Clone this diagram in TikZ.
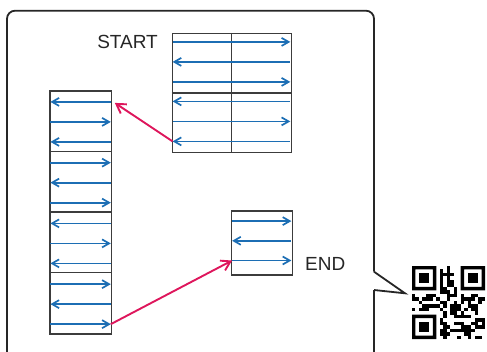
\documentclass[tikz,border=0pt]{standalone}
\usepackage{fontspec}
\setmainfont{Liberation Sans}
\usepackage{tikz}
\usetikzlibrary{arrows.meta,calc,positioning}

\definecolor{flowblue}{RGB}{28,110,180}
\definecolor{linkred}{RGB}{222,22,92}
\definecolor{boxgray}{RGB}{60,60,60}

\begin{document}
\begin{tikzpicture}[
    x=1pt,
    y=-1pt,
    >={Straight Barb[length=7pt,width=8pt]},
    panel/.style={draw=boxgray, line width=1.2pt, inner sep=0pt},
    sep/.style={draw=boxgray, line width=1.2pt},
    flow/.style={flowblue, line width=1.7pt},
    link/.style={linkred, line width=1.9pt, -{Straight Barb[length=9pt,width=11pt]}},
    frame/.style={draw=black!85, line width=1.8pt},
    lbl/.style={font=\fontsize{19}{21}\selectfont, inner sep=0pt, text=black!85},
    qr/.style={fill=black}
]
\useasboundingbox (0,0) rectangle (487,351);
\clip (0,0) rectangle (487,351);

% callout frame
\draw[frame, rounded corners=8pt] (374,271.7) -- (374,10.7) -- (7,10.7) -- (7,360) -- (374,360) -- (374,290);
\draw[frame, line join=miter] (374,271.7) -- (405,293.3) -- (374,290);

% boxes
\node[panel, minimum width=119pt, minimum height=119pt] (start) at (231.7,93) {};
\node[panel, minimum width=61.7pt, minimum height=243pt] (strip) at (80.85,212.5) {};
\node[panel, minimum width=60.6pt, minimum height=64pt] (end) at (262,243) {};

\node[lbl, anchor=east] (startlbl) at (158,41.7) {START};
\node[lbl, anchor=west] (endlbl) at (305,263.5) {END};

% start box: two halves, six rows
\draw[sep] (start.north) -- (start.south);
\draw[sep] (start.west) -- (start.east);
\foreach \s in {0,1}
  \foreach \r in {0,1,2}{
    \pgfmathtruncatemacro{\k}{3*\s+\r}
    \pgfmathsetmacro{\dy}{\s*59.5+9+\r*20}
    \coordinate (s\k) at ($(start.north west)+(1,\dy)$);
    \coordinate (t\k) at ($(start.north east)+(-1.5,\dy)$);
    \ifodd\k \draw[flow,<-] (s\k) -- (t\k); \else \draw[flow,->] (s\k) -- (t\k); \fi
  }

% strip: four sections, twelve rows
\foreach \s in {1,2,3}
  \draw[sep] ($(strip.north west)+(0,\s*60.75)$) -- ($(strip.north east)+(0,\s*60.75)$);
\foreach \s in {0,...,3}
  \foreach \r in {0,1,2}{
    \pgfmathtruncatemacro{\k}{3*\s+\r}
    \pgfmathsetmacro{\dy}{\s*60.75+11.5+\r*20}
    \coordinate (q\k) at ($(strip.north west)+(1,\dy)$);
    \coordinate (p\k) at ($(strip.north east)+(-1.5,\dy)$);
    \ifodd\k \draw[flow,->] (q\k) -- (p\k); \else \draw[flow,<-] (q\k) -- (p\k); \fi
  }

% end box: three rows
\foreach \k in {0,1,2}{
    \pgfmathsetmacro{\dy}{10.7+\k*19.7}
    \coordinate (e\k) at ($(end.north west)+(1,\dy)$);
    \coordinate (f\k) at ($(end.north east)+(-1.5,\dy)$);
    \ifodd\k \draw[flow,<-] (e\k) -- (f\k); \else \draw[flow,->] (e\k) -- (f\k); \fi
}

% jumps
\draw[link] (s5) -- ([xshift=4pt,yshift=-1pt]p0);
\draw[link] (p11) -- (e2);

% qr code
\def\qm{3.476}
\foreach \a/\b in {0/0,14/0,0/14}{
  \fill[qr, even odd rule] (412+\a*\qm,266+\b*\qm) rectangle ++(7*\qm,7*\qm)
                           (412+\a*\qm+\qm,266+\b*\qm+\qm) rectangle ++(5*\qm,5*\qm);
  \fill[qr] (412+\a*\qm+2*\qm,266+\b*\qm+2*\qm) rectangle ++(3*\qm,3*\qm);
}
\pgfmathsetseed{17}
\foreach \i in {0,...,20}
  \foreach \j in {0,...,20}{
    \pgfmathtruncatemacro{\infind}{or(and(\i<8,\j<8),or(and(\i>12,\j<8),and(\i<8,\j>12)))}
    \pgfmathrandominteger{\bit}{0}{1}
    \ifnum\infind=0 \ifnum\bit=1
      \fill[qr] (412+\i*\qm,266+\j*\qm) rectangle ++(\qm,\qm);
    \fi\fi
  }
\end{tikzpicture}
\end{document}
